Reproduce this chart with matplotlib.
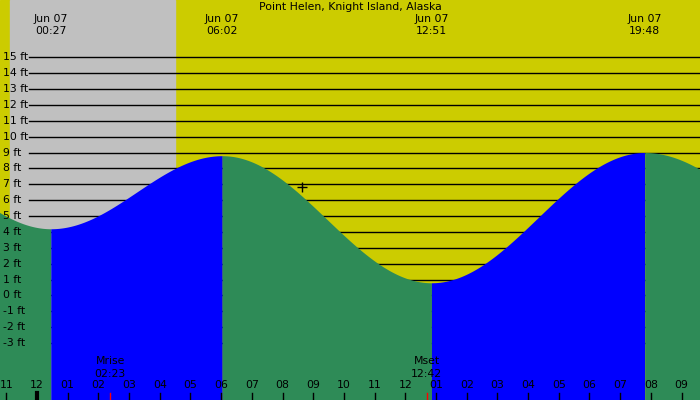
import numpy as np
import matplotlib
matplotlib.use("Agg")
import matplotlib.pyplot as plt

title = "Point Helen, Knight Island, Alaska"
# extremes: time in hours from midnight Jun 07, height ft
ext_times = [-5.0, 0.45, 6.033, 12.85, 19.8, 26.3]
ext_heights = [9.0, 4.2, 8.8, 0.8, 9.0, 3.0]
ext_labels = ["00:27", "06:02", "12:51", "19:48"]
ext_label_times = [0.45, 6.033, 12.85, 19.8]
hour_labels = ["11", "12", "01", "02", "03", "04", "05", "06", "07", "08", "09", "10",
               "11", "12", "01", "02", "03", "04", "05", "06", "07", "08", "09"]
hour_times = list(range(-1, 22))
ft_levels = list(range(-3, 16))
sunset_prev, sunrise = -0.88, 4.5
moon_events = [("Mrise", "02:23", 2.383), ("Mset", "12:42", 12.7)]
now_t, now_h = 8.63, 6.8

FS = 7.8
x0, x1 = -1.205, 21.6
y0, y1 = -6.58, 18.6
fig = plt.figure(figsize=(7, 4), dpi=100)
ax = fig.add_axes([0, 0, 1, 1])
ax.set_xlim(x0, x1); ax.set_ylim(y0, y1); ax.axis("off")

ax.axvspan(x0, x1, color="#cccc00", zorder=0)
ax.axvspan(sunset_prev, sunrise, color="#c0c0c0", zorder=0.5)
lx = x0 + 29 / 700 * (x1 - x0)
for v in ft_levels:
    ax.plot([lx, x1], [v, v], color="black", lw=1, zorder=1)
    ax.text(x0 + 3 / 700 * (x1 - x0), v, f"{v} ft", fontsize=FS, va="center", ha="left", zorder=3)

for i in range(len(ext_times) - 1):
    ta, tb = ext_times[i], ext_times[i + 1]
    ha, hb = ext_heights[i], ext_heights[i + 1]
    t = np.linspace(ta, tb, 200)
    h = hb + (ha - hb) * (1 + np.cos(np.pi * (t - ta) / (tb - ta))) / 2
    col = "#0000ff" if hb > ha else "#2e8b57"
    ax.fill_between(t, y0, h, color=col, lw=0, zorder=2)

ax.text((x0 + x1) / 2, y1 - 0.45, title, fontsize=FS, ha="center", va="center", zorder=4)
for lab, t in zip(ext_labels, ext_label_times):
    ax.text(t, y1 - 1.2, "Jun 07", fontsize=FS, ha="center", va="center", zorder=4)
    ax.text(t, y1 - 1.95, lab, fontsize=FS, ha="center", va="center", zorder=4)

for lab, t in zip(hour_labels, hour_times):
    ax.text(t, y0 + 0.95, lab, fontsize=FS, ha="center", va="center", zorder=4)
    ax.plot([t, t], [y0, y0 + 0.45], color="black", lw=3 if lab == "12" and t == 0 else 1, zorder=4)

for name, tm, t in moon_events:
    ax.text(t, y0 + 2.45, name, fontsize=FS, ha="center", va="center", zorder=4)
    ax.text(t, y0 + 1.65, tm, fontsize=FS, ha="center", va="center", zorder=4)
    ax.plot([t, t], [y0, y0 + 0.45], color="red", lw=1, zorder=4)

ax.plot([now_t], [now_h], marker="+", color="black", ms=7, mew=1, zorder=5)
fig.savefig("out.png", dpi=100)
